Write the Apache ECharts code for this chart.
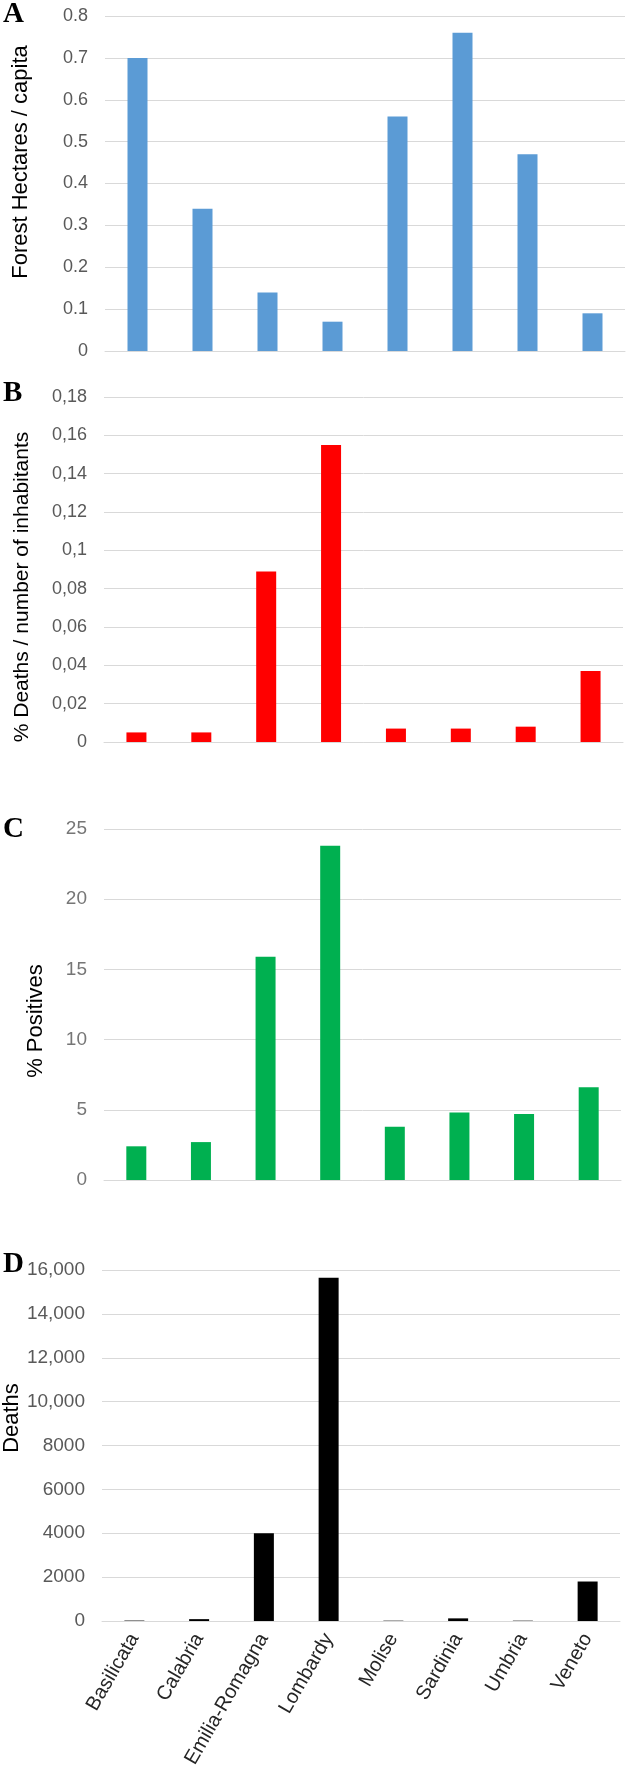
<!DOCTYPE html>
<html>
<head>
<meta charset="utf-8">
<script src="https://cdn.jsdelivr.net/npm/echarts@6/dist/echarts.min.js"></script>
<style>
  html, body { margin: 0; padding: 0; background: #fff; }
  #chart { width: 638px; height: 1773px; }
</style>
</head>
<body>
<div id="chart"></div>
<script>
var regions = ['Basilicata', 'Calabria', 'Emilia-Romagna', 'Lombardy', 'Molise', 'Sardinia', 'Umbria', 'Veneto'];

// A - forest hectares per capita
var forest = [0.70, 0.34, 0.14, 0.07, 0.56, 0.76, 0.47, 0.09];
// B - % deaths / inhabitants
var deathsPct = [0.005, 0.005, 0.089, 0.155, 0.007, 0.007, 0.008, 0.037];
// C - % positives
var positives = [2.4, 2.7, 15.9, 23.8, 3.8, 4.8, 4.7, 6.6];
// D - deaths
var deaths = [20, 85, 4000, 15650, 15, 120, 15, 1800];

var ticksA = ['0', '0.1', '0.2', '0.3', '0.4', '0.5', '0.6', '0.7', '0.8'];
var ticksB = ['0', '0,02', '0,04', '0,06', '0,08', '0,1', '0,12', '0,14', '0,16', '0,18'];
var ticksC = ['0', '5', '10', '15', '20', '25'];
var ticksD = ['0', '2000', '4000', '6000', '8000', '10,000', '12,000', '14,000', '16,000'];

var font = 'Liberation Sans, Arial, sans-serif';
var gridColor = '#d9d9d9';

function xAx(i, showLabels) {
  return {
    type: 'category',
    gridIndex: i,
    data: regions,
    axisTick: { show: false },
    axisLine: { show: true, lineStyle: { color: gridColor, width: 1 } },
    axisLabel: showLabels ? {
      show: true, rotate: 60, interval: 0, margin: 14,
      fontFamily: font, fontSize: 20, color: '#262626'
    } : { show: false }
  };
}

function yAx(i, max, step, ticks, size, color) {
  return {
    type: 'value',
    gridIndex: i,
    min: 0, max: max, interval: step,
    axisLine: { show: false },
    axisTick: { show: false },
    splitLine: { lineStyle: { color: gridColor, width: 1 } },
    axisLabel: {
      margin: 17, fontFamily: font, fontSize: size, color: color,
      formatter: function (v) { return ticks[Math.round(v / step)]; }
    }
  };
}

function bars(i, data, color) {
  return {
    type: 'bar',
    xAxisIndex: i, yAxisIndex: i,
    data: data,
    barWidth: 20,
    itemStyle: { color: color },
    silent: true
  };
}

function panelLetter(t, y) {
  return {
    type: 'text', left: 3, top: y,
    style: { text: t, font: 'bold 29px "Liberation Serif", "Times New Roman", serif', fill: '#000' }
  };
}

function yTitle(t, x, y, size) {
  return {
    type: 'text', x: x, y: y, rotation: Math.PI / 2,
    style: { text: t, fontFamily: font, fontSize: size, fill: '#000', align: 'center', verticalAlign: 'middle' }
  };
}

var chart = echarts.init(document.getElementById('chart'));
var option = {
  animation: false,
  grid: [
    { left: 105, top: 16, width: 520, height: 335 },
    { left: 104, top: 397, width: 519, height: 345 },
    { left: 104, top: 829, width: 517, height: 351 },
    { left: 102, top: 1270, width: 518, height: 351 }
  ],
  xAxis: [xAx(0, false), xAx(1, false), xAx(2, false), xAx(3, true)],
  yAxis: [
    yAx(0, 0.8, 0.1, ticksA, 18, '#595959'),
    yAx(1, 0.18, 0.02, ticksB, 18, '#595959'),
    yAx(2, 25, 5, ticksC, 19, '#767676'),
    yAx(3, 16000, 2000, ticksD, 19, '#595959')
  ],
  series: [
    bars(0, forest, '#5b9bd5'),
    bars(1, deathsPct, '#ff0000'),
    bars(2, positives, '#00b050'),
    bars(3, deaths, '#000000')
  ],
  graphic: [
    panelLetter('A', 0),
    panelLetter('B', 379),
    panelLetter('C', 815),
    panelLetter('D', 1250),
    yTitle('Forest Hectares / capita', 21, 162, 22),
    yTitle('% Deaths / number of inhabitants', 22, 587, 21),
    yTitle('% Positives', 36, 1021, 22),
    yTitle('Deaths', 12, 1418, 22)
  ]
};
chart.setOption(option);
</script>
</body>
</html>
